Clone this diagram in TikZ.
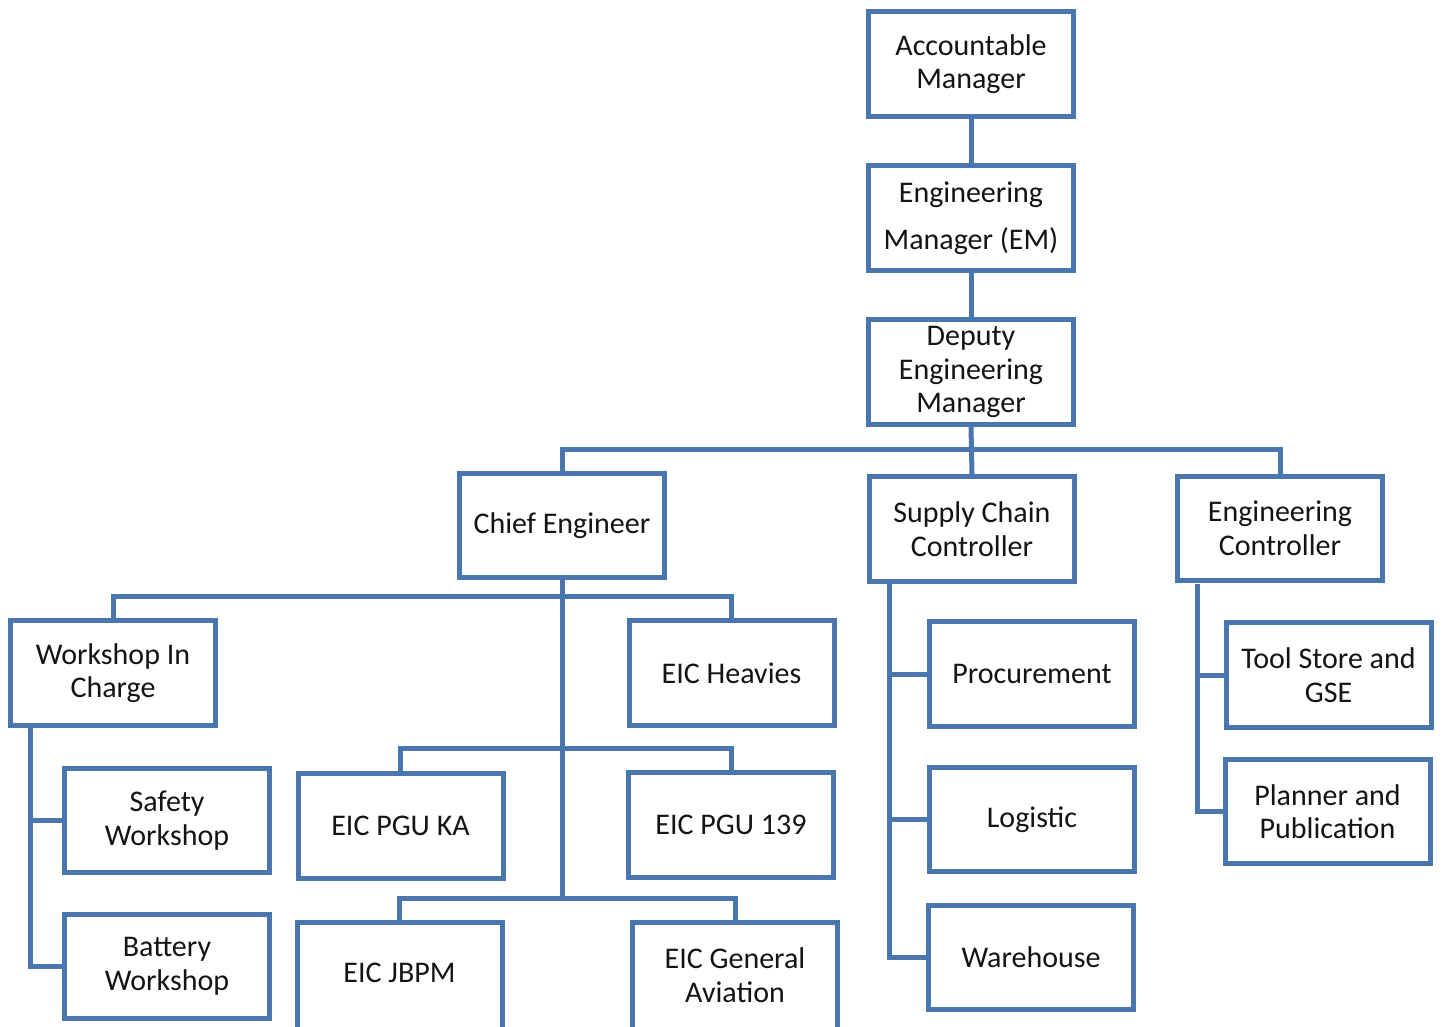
\documentclass[tikz,border=0pt]{standalone}
\usepackage{fontspec}
\setmainfont{Carlito}
\definecolor{orgblue}{RGB}{74,118,176}
\definecolor{orgtext}{RGB}{20,20,20}
\tikzset{
  unit/.style={draw=orgblue, line width=5pt, fill=white, rectangle,
    minimum width=205pt, minimum height=104.5pt, inner sep=0pt,
    align=center, text=orgtext, font=\fontsize{30}{33.5}\selectfont},
  link/.style={draw=orgblue, line width=5pt, line join=miter}
}
\begin{document}
\begin{tikzpicture}[x=1pt,y=-1pt]
\useasboundingbox (0,0) rectangle (1443,1027);
\clip (0,0) rectangle (1443,1027);
\fill[white] (0,0) rectangle (1443,1027);

% top chain
\node[unit] (acc) at (971,64) {Accountable\\Manager};
\node[unit, font=\fontsize{30}{47}\selectfont] (em) at (971,218) {Engineering\\Manager (EM)};
\node[unit] (dem) at (971,372) {Deputy\\Engineering\\Manager};

% second level
\node[unit] (chief) at (562,525.5) {Chief Engineer};
\node[unit] (supply) at (972,529) {Supply Chain\\Controller};
\node[unit] (engc) at (1280,528.5) {Engineering\\Controller};

% under the chief engineer
\node[unit] (wic) at (113,673) {Workshop In\\Charge};
\node[unit] (heavies) at (731.5,673) {EIC Heavies};
\node[unit] (pguka) at (400.5,826) {EIC PGU KA};
\node[unit] (pgu139) at (731,825) {EIC PGU 139};
\node[unit, minimum height=124.5pt] (jbpm) at (399.5,985) {};
\node[unit, minimum height=124.5pt] (genav) at (735,985) {};
\node[text=orgtext, font=\fontsize{30}{33.5}\selectfont] (jbpmtext) at (399.5,973) {EIC JBPM};
\node[align=center, text=orgtext, font=\fontsize{30}{33.5}\selectfont] (genavtext) at (735,975) {EIC General\\Aviation};

% under the workshop in charge
\node[unit] (safety) at (167,820.5) {Safety\\Workshop};
\node[unit] (battery) at (167,966.5) {Battery\\Workshop};

% under the supply chain controller
\node[unit] (proc) at (1032,674) {Procurement};
\node[unit] (logi) at (1032,819.5) {Logistic};
\node[unit] (ware) at (1031,957.5) {Warehouse};

% under the engineering controller
\node[unit] (tool) at (1328.5,675) {Tool Store and\\GSE};
\node[unit] (plan) at (1327.5,811.5) {Planner and\\Publication};

% bus points
\coordinate (busA) at (971,449);
\coordinate (busB) at (562,596);
\coordinate (busC) at (562,748);
\coordinate (busD) at (562,898);
\coordinate (wicS) at (30,728);
\coordinate (supS) at (889,584);
\coordinate (engS) at (1197,584);

\draw[link] (acc.south) -- (em.north);
\draw[link] (em.south) -- (dem.north);
\draw[link] (dem.south) -- (supply.north);
\draw[link] (chief.north) |- (busA) -| (engc.north);
\draw[link] (chief.south) -- (busD);
\draw[link] (wic.north) |- (busB) -| (heavies.north);
\draw[link] (pguka.north) |- (busC) -| (pgu139.north);
\draw[link] (jbpm.north) |- (busD) -| (genav.north);
\draw[link] (wicS) |- (safety.west);
\draw[link] (wicS) |- (battery.west);
\draw[link] (supS) |- (proc.west);
\draw[link] (supS) |- (logi.west);
\draw[link] (supS) |- (ware.west);
\draw[link] (engS) |- (tool.west);
\draw[link] (engS) |- (plan.west);
\end{tikzpicture}
\end{document}
